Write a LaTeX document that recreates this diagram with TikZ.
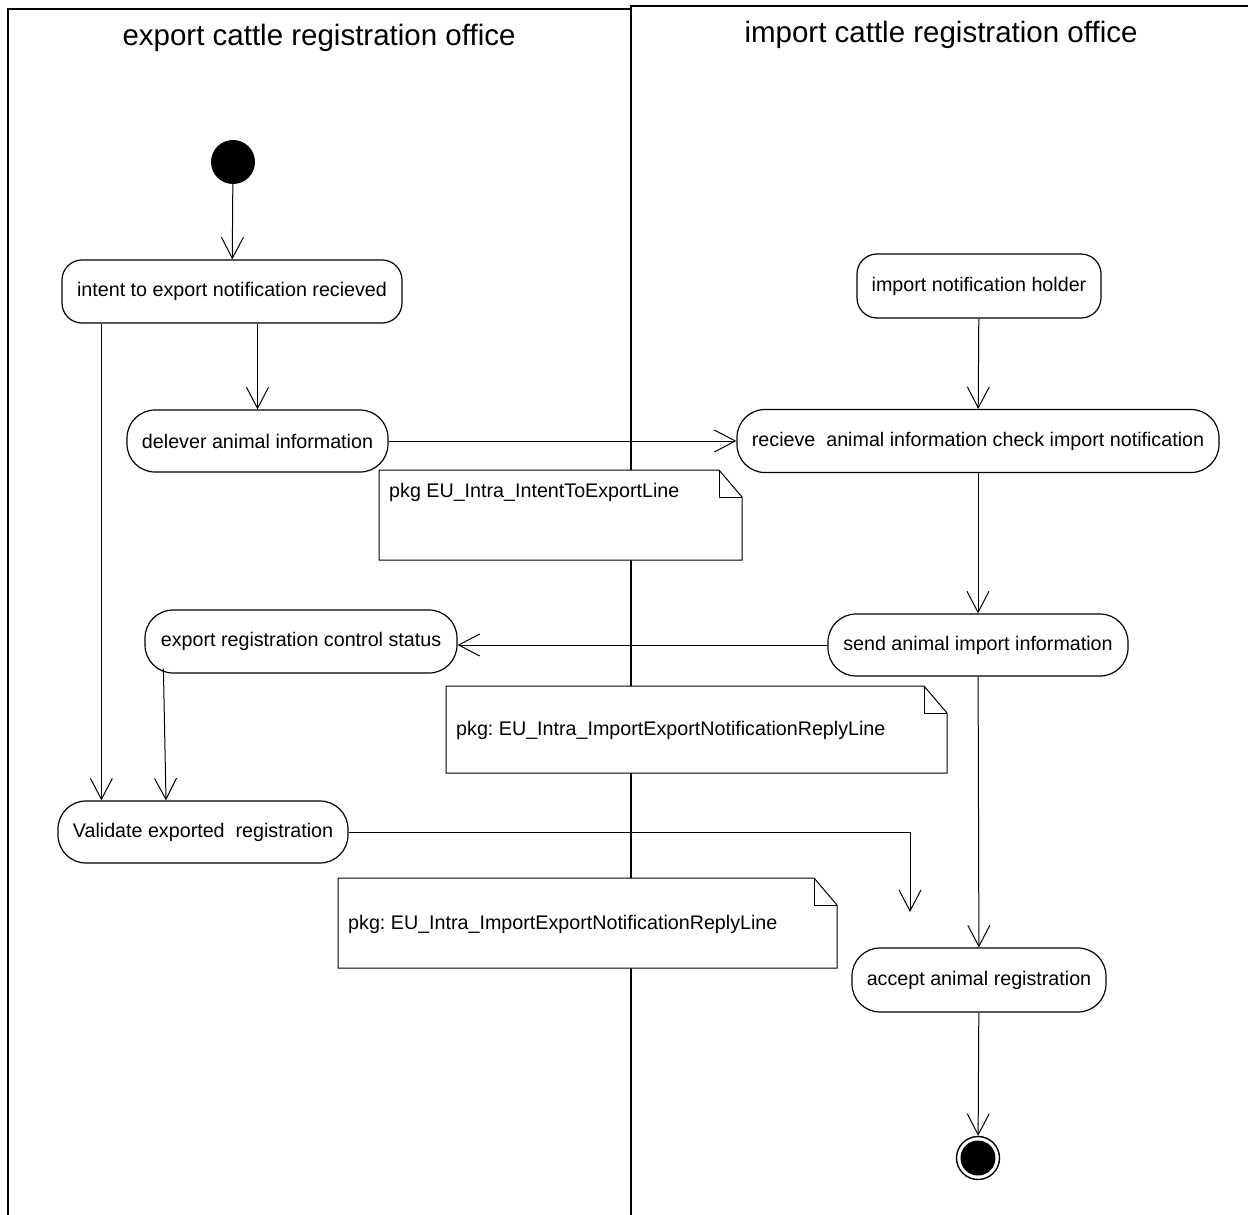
\documentclass[tikz,border=0pt]{standalone}
\usepackage{fontspec}
\setmainfont{Liberation Sans}
\usetikzlibrary{arrows.meta}
\frenchspacing
\pgfdeclarelayer{lanes}
\pgfdeclarelayer{notes}
\pgfsetlayers{lanes,notes,main}
\tikzset{
  act/.style={draw, line width=1.2pt, rounded corners=28pt, minimum height=62pt,
    inner sep=0pt, font=\fontsize{19.7}{23}\selectfont, fill=white},
  actsq/.style={act, rounded corners=20pt},
  flow/.style={line width=1pt, -{Straight Barb[length=21pt,width=22pt,line width=1pt]}},
  notetext/.style={anchor=west, inner sep=0pt, font=\fontsize{19.7}{23}\selectfont},
  notebox/.style={draw, line width=1pt, fill=white},
  lane/.style={line width=2pt},
  lanetitle/.style={font=\fontsize{29.5}{34}\selectfont, inner sep=0pt},
  initial/.style={circle, fill=black, minimum size=44pt, inner sep=0pt},
  final/.style={circle, draw, line width=1.4pt, minimum size=43pt, inner sep=0pt},
}
\newcommand\umlnote[4]{%
  \begin{pgfonlayer}{notes}
    \draw[notebox] (#1,#2) -- (#3-23,#2) -- (#3,#2+27) -- (#3,#4) -- (#1,#4) -- cycle;
    \draw[line width=1pt] (#3-23,#2) -- (#3-23,#2+27) -- (#3,#2+27);
  \end{pgfonlayer}}
\begin{document}
\begin{tikzpicture}[x=1pt,y=-1pt]
\useasboundingbox (0,0) rectangle (1248,1215);
% swimlanes
\begin{pgfonlayer}{lanes}
  \draw[lane] (8,1217) -- (8,9) -- (631,9);
  \draw[lane] (631,1217) -- (631,6) -- (1250,6);
\end{pgfonlayer}
\node[lanetitle] (t1) at (319,38) {export cattle registration office};
\node[lanetitle] (t2) at (941,35) {import cattle registration office};

% nodes
\node[initial] (start) at (233,162) {};
\node[actsq, minimum width=340pt, minimum height=63pt] (intent) at (232,291.5) {intent to export notification recieved};
\node[act, minimum width=261pt] (delever) at (257.5,441) {delever animal information};
\node[actsq, minimum width=244pt, minimum height=64pt] (holder) at (979,286) {import notification holder};
\node[act, minimum width=482pt, minimum height=63pt] (recieve) at (978,441) {recieve~ animal information check import notification};
\node[act, minimum width=300pt] (send) at (978,645) {send animal import information};
\node[act, minimum width=312pt, minimum height=63pt] (expstat) at (301,641.5) {export registration control status};
\node[act, minimum width=290pt] (validate) at (203,832) {Validate exported~ registration};
\node[act, minimum width=254pt, minimum height=64pt] (accept) at (979,980) {accept animal registration};
\node[final] (final) at (978,1158) {};
\fill (final.center) circle (17.5pt);
\coordinate (vtip) at (910,912);

% notes
\umlnote{379}{470}{742}{560}
\node[notetext] (n1) at (389,492) {pkg EU\_Intra\_IntentToExportLine};
\umlnote{446}{686}{947}{773}
\node[notetext] (n2) at (456,730) {pkg: EU\_Intra\_ImportExportNotificationReplyLine};
\umlnote{338}{878}{837}{968}
\node[notetext] (n3) at (348,924) {pkg: EU\_Intra\_ImportExportNotificationReplyLine};

% flows
\draw[flow] (start) -- (intent);
\draw[flow] (intent.south -| delever.north) -- (delever.north);
\draw[flow] ([xshift=40pt]intent.south west) -- ([xshift=40pt]intent.south west |- validate.north);
\draw[flow] (delever) -- (recieve);
\draw[flow] (holder) -- (recieve);
\draw[flow] (recieve) -- (send);
\draw[flow] (send.west) -- (send.west -| expstat.east);
\draw[flow] ([xshift=19pt,yshift=5pt]expstat.south west) -- ([xshift=-37pt]validate.north);
\draw[flow] (validate.east) -| (vtip);
\draw[flow] (send) -- (accept);
\draw[flow] (accept) -- (final);
\end{tikzpicture}
\end{document}
